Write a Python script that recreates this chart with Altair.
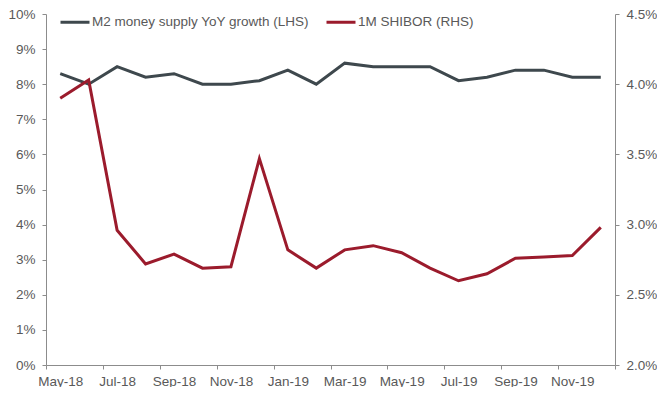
import altair as alt
import pandas as pd

months = ["May-18", "Jun-18", "Jul-18", "Aug-18", "Sep-18", "Oct-18", "Nov-18", "Dec-18",
          "Jan-19", "Feb-19", "Mar-19", "Apr-19", "May-19", "Jun-19", "Jul-19", "Aug-19",
          "Sep-19", "Oct-19", "Nov-19", "Dec-19"]
m2_growth = [8.3, 8.0, 8.5, 8.2, 8.3, 8.0, 8.0, 8.1, 8.4, 8.0,
             8.6, 8.5, 8.5, 8.5, 8.1, 8.2, 8.4, 8.4, 8.2, 8.2]
shibor_1m = [3.90, 4.03, 2.96, 2.72, 2.79, 2.69, 2.70, 3.47, 2.82, 2.69,
             2.82, 2.85, 2.80, 2.69, 2.60, 2.65, 2.76, 2.77, 2.78, 2.98]
tick_labels = ["May-18", "Jul-18", "Sep-18", "Nov-18", "Jan-19", "Mar-19",
               "May-19", "Jul-19", "Sep-19", "Nov-19", ""]

S1 = "M2 money supply YoY growth (LHS)"
S2 = "1M SHIBOR (RHS)"
GRAY = "#3e484d"
RED = "#9b1b2c"
FONT = "Liberation Sans"
TXT = "#595959"
AX = "#8c8c8c"
FS = 13.5
LFS = 13.5

df1 = pd.DataFrame({"i": range(len(months)), "month": months, "v": m2_growth, "series": S1})
df2 = pd.DataFrame({"i": range(len(months)), "month": months, "v": shibor_1m, "series": S2})

W = 569
H = 351
step = W / len(months)

label_arr = "[" + ",".join("'%s'" % t for t in tick_labels) + "]"

x = alt.X(
    "i:Q",
    scale=alt.Scale(domain=[-0.5, len(months) - 0.5], nice=False, zero=False),
    axis=alt.Axis(
        values=[k - 0.5 for k in range(0, len(months) + 1, 2)],
        labelExpr=label_arr + "[round((datum.value + 0.5) / 2)]",
        labelOffset=step / 2,
        title=None, grid=False, tickSize=4, labelPadding=5,
        domainColor=AX, tickColor=AX, labelColor=TXT,
        labelFont=FONT, labelFontSize=FS, labelFlush=False, labelOverlap=False,
    ),
)

color = alt.Color(
    "series:N",
    scale=alt.Scale(domain=[S1, S2], range=[GRAY, RED]),
    legend=alt.Legend(
        orient="none", legendX=13, legendY=-8, direction="horizontal",
        title=None, symbolType="stroke", symbolSize=841, symbolStrokeWidth=3,
        labelFont=FONT, labelFontSize=LFS, labelColor=TXT, labelOffset=1,
        columnPadding=10, padding=0, labelLimit=400,
    ),
)

left = alt.Chart(df1).mark_line(strokeWidth=3).encode(
    x=x,
    y=alt.Y("v:Q", scale=alt.Scale(domain=[0, 10], nice=False, zero=True),
            axis=alt.Axis(values=list(range(0, 11)), labelExpr="datum.value + '%'",
                          title=None, grid=False, tickSize=4, labelPadding=7,
                          domainColor=AX, tickColor=AX, labelColor=TXT,
                          labelFont=FONT, labelFontSize=FS, orient="left")),
    color=color,
)

right = alt.Chart(df2).mark_line(strokeWidth=3).encode(
    x=x,
    y=alt.Y("v:Q", scale=alt.Scale(domain=[2.0, 4.5], nice=False, zero=False),
            axis=alt.Axis(values=[2.0, 2.5, 3.0, 3.5, 4.0, 4.5],
                          labelExpr="format(datum.value, '.1f') + '%'",
                          title=None, grid=False, tickSize=4, labelPadding=7,
                          domainColor=AX, tickColor=AX, labelColor=TXT,
                          labelFont=FONT, labelFontSize=FS, orient="right")),
    color=color,
)

chart = alt.layer(left, right).resolve_scale(y="independent").properties(
    width=W, height=H,
    autosize=alt.AutoSizeParams(type="none"),
    padding={"left": 38, "top": 6, "right": 42, "bottom": 22},
    background="white",
).configure_view(strokeWidth=0).configure_legend(
    labelFontSize=LFS, labelFont=FONT, labelColor=TXT
)

chart.save("out.html", embed_options={"renderer": "svg", "actions": False})
